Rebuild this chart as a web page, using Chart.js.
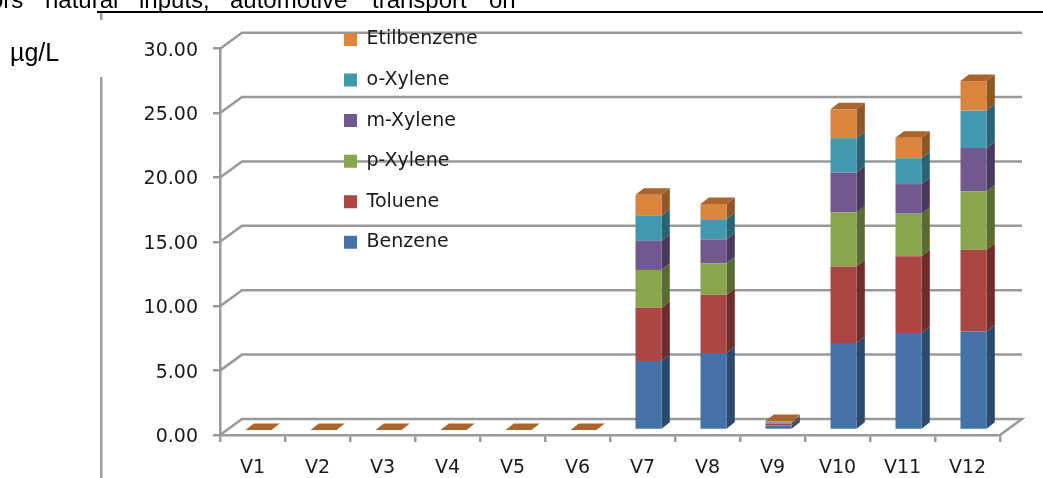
<!DOCTYPE html>
<html>
<head>
<meta charset="utf-8">
<style>html,body{margin:0;padding:0;background:#fff;overflow:hidden}canvas{display:block}</style>
<script src="https://cdn.jsdelivr.net/npm/chart.js@4"></script>
</head>
<body>
<canvas id="c" width="1043" height="478"></canvas>
<script>
const categories = ["V1","V2","V3","V4","V5","V6","V7","V8","V9","V10","V11","V12"];
const benzene    = [0,0,0,0,0,0,5.36,5.98,0.35,6.76,7.54,7.64];
const toluene    = [0,0,0,0,0,0,4.14,4.51,0.15,5.93,5.96,6.36];
const pXylene    = [0,0,0,0,0,0,2.93,2.46,0.05,4.21,3.30,4.55];
const mXylene    = [0,0,0,0,0,0,2.26,1.85,0.05,3.10,2.30,3.35];
const oXylene    = [0,0,0,0,0,0,1.94,1.57,0.05,2.66,2.00,2.90];
const etil       = [0,0,0,0,0,0,1.63,1.19,0.05,2.24,1.60,2.30];
const seriesNames = ["Benzene","Toluene","p-Xylene","m-Xylene","o-Xylene","Etilbenzene"];
const seriesValues = [benzene,toluene,pXylene,mXylene,oXylene,etil];
const frontColors = ["#4572A7","#AA4643","#89A54E","#71588F","#4198AF","#DB843D"];
const sideColors  = ["#2C4A6E","#6E2D2B","#5A6B33","#49395D","#2A6373","#8F5628"];
const topColor = "#A9652C";
const headerWords = [["ors",-10],["natural",45],["inputs,",139],["automotive",230],["transport",372],["on",489]];

const AXIS = "#999999", TEXT = "#1A1A1A", FONT = "'DejaVu Sans'";
const WALL_DX = 22, WALL_DY = 16, BAR_DX = 6, BAR_DY = 5, SIDE_DX = 8.3, SIDE_DY = 6.5;

function poly(ctx, pts, fill){
  ctx.beginPath();
  pts.forEach((p,i)=> i ? ctx.lineTo(p[0],p[1]) : ctx.moveTo(p[0],p[1]));
  ctx.closePath();
  ctx.fillStyle = fill;
  ctx.fill();
}

const scene = {
  id:"scene",
  afterLayout(chart){
    const l = chart.legend;
    if(l){ l.left = 322.44; l.top = 8.44; l.right = 640; l.bottom = 320; l.width = 318; l.height = 312; }
    const y = chart.scales.y;
    if(!y._shifted){
      const draw = y.drawLabels;
      y.drawLabels = function(area){
        chart.ctx.save();
        chart.ctx.translate(0,2);
        draw.call(this,area);
        chart.ctx.restore();
      };
      y._shifted = true;
    }
  },
  beforeDraw(chart){
    const {ctx, chartArea:a, scales:{y}} = chart;
    ctx.save();
    ctx.fillStyle = "#fff";
    ctx.fillRect(0,0,chart.width,chart.height);
    // page fragments around the pasted chart
    ctx.fillStyle = "#000";
    ctx.font = "24px 'Liberation Sans'";
    ctx.textBaseline = "alphabetic";
    ctx.textAlign = "left";
    headerWords.forEach(w=>ctx.fillText(w[0],w[1],8));
    ctx.font = "25px 'Liberation Sans'";
    ctx.fillText("\u00B5g/L",10,61);
    ctx.fillRect(97,11,946,2);
    ctx.fillStyle = "#9C9C9C";
    ctx.fillRect(100,13,2.5,7);
    ctx.fillRect(100,77,2.5,401);
    // wall and floor lines of the 3D box
    ctx.strokeStyle = AXIS;
    ctx.lineWidth = 2.5;
    y.ticks.forEach(t=>{
      const py = y.getPixelForValue(t.value);
      ctx.beginPath();
      ctx.moveTo(a.left,py);
      ctx.lineTo(a.left+WALL_DX,py-WALL_DY);
      ctx.lineTo(a.right+WALL_DX,py-WALL_DY);
      if(t.value===0) ctx.lineTo(a.right,py);
      ctx.stroke();
    });
    ctx.restore();
  },
  beforeDatasetsDraw(chart){
    const ctx = chart.ctx;
    ctx.save();
    ctx.translate(BAR_DX,-BAR_DY);
    chart.data.datasets.forEach((d,i)=>{
      chart.getDatasetMeta(i).data.forEach(b=>{
        const r = b.x + b.width/2;
        if(Math.abs(b.base-b.y)<0.01) return;
        poly(ctx,[[r,b.y],[r+SIDE_DX,b.y-SIDE_DY],[r+SIDE_DX,b.base-SIDE_DY],[r,b.base]],sideColors[i]);
      });
    });
  },
  afterDatasetsDraw(chart){
    const ctx = chart.ctx;
    const last = chart.data.datasets.length-1;
    chart.getDatasetMeta(last).data.forEach(b=>{
      const l = b.x - b.width/2, r = b.x + b.width/2;
      poly(ctx,[[l,b.y],[r,b.y],[r+SIDE_DX,b.y-SIDE_DY],[l+SIDE_DX,b.y-SIDE_DY]],topColor);
    });
    ctx.restore();
  }
};

new Chart(document.getElementById("c"),{
  type:"bar",
  plugins:[scene],
  data:{
    labels:categories,
    datasets:seriesNames.map((n,i)=>({
      label:n,
      data:seriesValues[i],
      backgroundColor:frontColors[i],
      borderWidth:0,
      barPercentage:0.4,
      categoryPercentage:1,
      clip:false
    }))
  },
  options:{
    responsive:false,
    animation:false,
    font:{family:FONT},
    layout:{padding:{left:0,right:43,top:48.7,bottom:0}},
    plugins:{
      title:{display:false},
      tooltip:{enabled:false},
      legend:{
        position:"chartArea",
        align:"start",
        reverse:true,
        labels:{boxWidth:13,boxHeight:13,padding:21.56,color:TEXT,font:{family:FONT,size:19}}
      }
    },
    scales:{
      x:{
        stacked:true,
        afterFit(s){ s.height = 43; },
        grid:{display:true,drawOnChartArea:false,drawTicks:true,tickLength:7,color:AXIS,lineWidth:2.5},
        border:{display:true,color:AXIS,width:2.5},
        ticks:{color:TEXT,font:{family:FONT,size:19},padding:15,maxRotation:0,autoSkip:false}
      },
      y:{
        stacked:true,
        min:0,max:30,
        afterFit(s){ s.width = 220; },
        grid:{display:true,drawOnChartArea:false,drawTicks:true,tickLength:7,color:AXIS,lineWidth:2.5},
        border:{display:true,color:AXIS,width:2.5},
        ticks:{stepSize:5,color:TEXT,font:{family:FONT,size:19},padding:15,callback:v=>v.toFixed(2)}
      }
    }
  }
});
</script>
</body>
</html>
